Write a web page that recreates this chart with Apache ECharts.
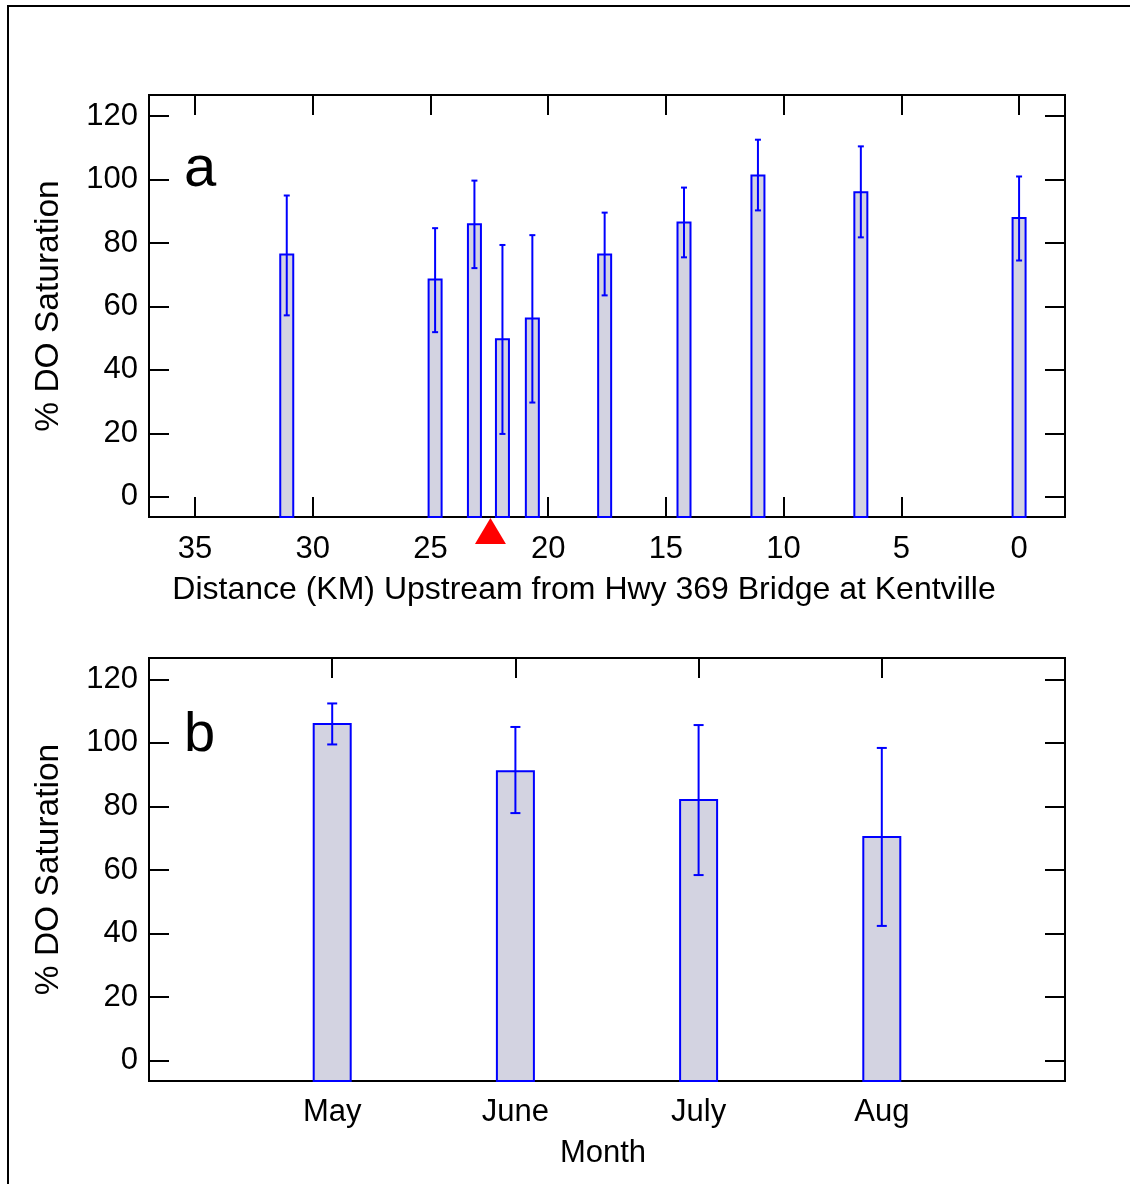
<!DOCTYPE html>
<html>
<head>
<meta charset="utf-8">
<script src="https://cdn.jsdelivr.net/npm/echarts@6/dist/echarts.min.js"></script>
<style>
html,body{margin:0;padding:0;background:#fff;}
#chart{width:1130px;height:1184px;}
</style>
</head>
<body>
<div id="chart"></div>
<script>
// ---- Data ----
const distKm   = [31.1, 24.8, 23.13, 21.94, 20.67, 17.6, 14.23, 11.09, 6.72, 0];
const doMeanA  = [76.4, 68.5, 85.9, 49.7, 56.2, 76.4, 86.5, 101.3, 96.0, 87.9];
const doUpperA = [95.0, 84.7, 99.7, 79.4, 82.5, 89.6, 97.5, 112.6, 110.5, 101.0];
const doLowerA = [57.2, 51.9, 72.1, 19.8, 29.7, 63.5, 75.5, 90.3, 81.8, 74.5];
const bridgeKm = [22.45];

const months   = ['May', 'June', 'July', 'Aug'];
const monthPos = [1, 2, 3, 4];
const doMeanB  = [105.9, 91.1, 82.0, 70.4];
const doUpperB = [112.4, 105.0, 105.6, 98.4];
const doLowerB = [99.5, 77.9, 58.4, 42.4];

const distTicks = [35, 30, 25, 20, 15, 10, 5, 0];
const pctTicks  = [0, 20, 40, 60, 80, 100, 120];

// ---- Chart ----
const FONT = 'Liberation Sans';
const Y_MIN = -6.4, Y_MAX = 126.7;
const X_MIN = -1.95, X_MAX = 36.95;

const chart = echarts.init(document.getElementById('chart'), null, {renderer: 'canvas'});

function barRenderer(barW, capW, outlineW) {
  return function (params, api) {
    const x = api.value(0), mean = api.value(1), lo = api.value(2), hi = api.value(3);
    const pTop = api.coord([x, mean]);
    const pBot = api.coord([x, Y_MIN]);
    const pHi = api.coord([x, hi]);
    const pLo = api.coord([x, lo]);
    const blue = '#0000ff';
    return {
      type: 'group',
      children: [
        {type: 'rect', shape: {x: pTop[0] - barW / 2, y: pTop[1], width: barW, height: pBot[1] - pTop[1]},
         style: {fill: '#d3d3e1', stroke: blue, lineWidth: outlineW}},
        {type: 'line', shape: {x1: pHi[0], y1: pHi[1], x2: pLo[0], y2: pLo[1]}, style: {stroke: blue, lineWidth: 2}},
        {type: 'line', shape: {x1: pHi[0] - capW / 2, y1: pHi[1], x2: pHi[0] + capW / 2, y2: pHi[1]}, style: {stroke: blue, lineWidth: 2}},
        {type: 'line', shape: {x1: pLo[0] - capW / 2, y1: pLo[1], x2: pLo[0] + capW / 2, y2: pLo[1]}, style: {stroke: blue, lineWidth: 2}}
      ]
    };
  };
}

const tickStyle = {show: true, inside: true, length: 20, lineStyle: {color: '#000', width: 2}};
const labelStyle = {color: '#000', fontFamily: FONT, fontSize: 31};
const noLine = {show: false, onZero: false};

function pctLabel(v) { return pctTicks.indexOf(v) >= 0 ? String(v) : ''; }
function distLabel(v) { return distTicks.indexOf(v) >= 0 ? String(v) : ''; }
function monthLabel(v) { const i = monthPos.indexOf(v); return i >= 0 ? months[i] : ''; }

function yAxisDef(gridIndex, position, withLabels) {
  return {
    type: 'value', gridIndex: gridIndex, position: position, min: Y_MIN, max: Y_MAX, splitNumber: 7,
    axisLine: noLine, splitLine: {show: false},
    axisTick: tickStyle,
    axisLabel: withLabels ? Object.assign({}, labelStyle, {margin: 11, formatter: pctLabel, showMinLabel: false, showMaxLabel: false}) : {show: false},
    name: withLabels ? '% DO Saturation' : '',
    nameLocation: 'middle', nameGap: 83, nameRotate: 90,
    nameTextStyle: {color: '#000', fontFamily: FONT, fontSize: 33.5}
  };
}

function distAxisDef(position, withLabels) {
  return {
    type: 'value', gridIndex: 0, position: position, inverse: true, min: X_MIN, max: X_MAX, splitNumber: 8,
    axisLine: noLine, splitLine: {show: false},
    axisTick: tickStyle,
    axisLabel: withLabels ? Object.assign({}, labelStyle, {margin: 17, formatter: distLabel, showMinLabel: false, showMaxLabel: false}) : {show: false},
    name: withLabels ? 'Distance (KM) Upstream from Hwy 369 Bridge at Kentville' : '',
    nameLocation: 'middle', nameGap: 57,
    nameTextStyle: {color: '#000', fontFamily: FONT, fontSize: 32, padding: [0, 46, 0, 0]}
  };
}

const option = {
  backgroundColor: '#fff',
  animation: false,
  grid: [
    {left: 149, top: 95, width: 916, height: 422, show: true, borderColor: '#000', borderWidth: 2, backgroundColor: 'transparent'},
    {left: 149, top: 658, width: 916, height: 423, show: true, borderColor: '#000', borderWidth: 2, backgroundColor: 'transparent'}
  ],
  xAxis: [
    distAxisDef('bottom', true),
    distAxisDef('top', false),
    {type: 'value', gridIndex: 1, position: 'bottom', min: 0, max: 5, interval: 1,
     axisLine: noLine, splitLine: {show: false},
     axisTick: {show: false},
     axisLabel: Object.assign({}, labelStyle, {margin: 16, formatter: monthLabel}),
     name: 'Month', nameLocation: 'middle', nameGap: 57,
     nameTextStyle: {color: '#000', fontFamily: FONT, fontSize: 31, padding: [0, 8, 0, 0]}},
    {type: 'value', gridIndex: 1, position: 'top', min: 0, max: 5, interval: 1,
     axisLine: noLine, splitLine: {show: false},
     axisTick: tickStyle,
     axisLabel: {show: false}}
  ],
  yAxis: [
    yAxisDef(0, 'left', true),
    yAxisDef(0, 'right', false),
    yAxisDef(1, 'left', true),
    yAxisDef(1, 'right', false)
  ],
  graphic: [
    {type: 'rect', z: 100, silent: true, shape: {x: 8, y: 6, width: 1160, height: 1220},
     style: {fill: 'none', stroke: '#000', lineWidth: 2}},
    {type: 'text', z: 100, x: 184, y: 170, style: {text: 'a', fontFamily: FONT, fontSize: 58, fill: '#000', verticalAlign: 'middle'}},
    {type: 'text', z: 100, x: 184, y: 736, style: {text: 'b', fontFamily: FONT, fontSize: 56, fill: '#000', verticalAlign: 'middle'}}
  ],
  series: [
    {type: 'custom', xAxisIndex: 0, yAxisIndex: 0, clip: false,
     data: distKm.map((d, i) => [d, doMeanA[i], doLowerA[i], doUpperA[i]]),
     encode: {x: 0, y: 1},
     renderItem: barRenderer(13, 6, 2)},
    {type: 'custom', xAxisIndex: 2, yAxisIndex: 2, clip: false,
     data: monthPos.map((m, i) => [m, doMeanB[i], doLowerB[i], doUpperB[i]]),
     encode: {x: 0, y: 1},
     renderItem: barRenderer(37, 10, 2)},
    {type: 'custom', xAxisIndex: 0, yAxisIndex: 0, clip: false, z: 5,
     data: bridgeKm.map(d => [d]),
     renderItem: function (params, api) {
       const p = api.coord([api.value(0), Y_MIN]);
       return {type: 'polygon', shape: {points: [[p[0], p[1] + 1], [p[0] + 15.5, p[1] + 27], [p[0] - 15.5, p[1] + 27]]},
               style: {fill: '#ff0000'}};
     }}
  ]
};
chart.setOption(option);
</script>
</body>
</html>
